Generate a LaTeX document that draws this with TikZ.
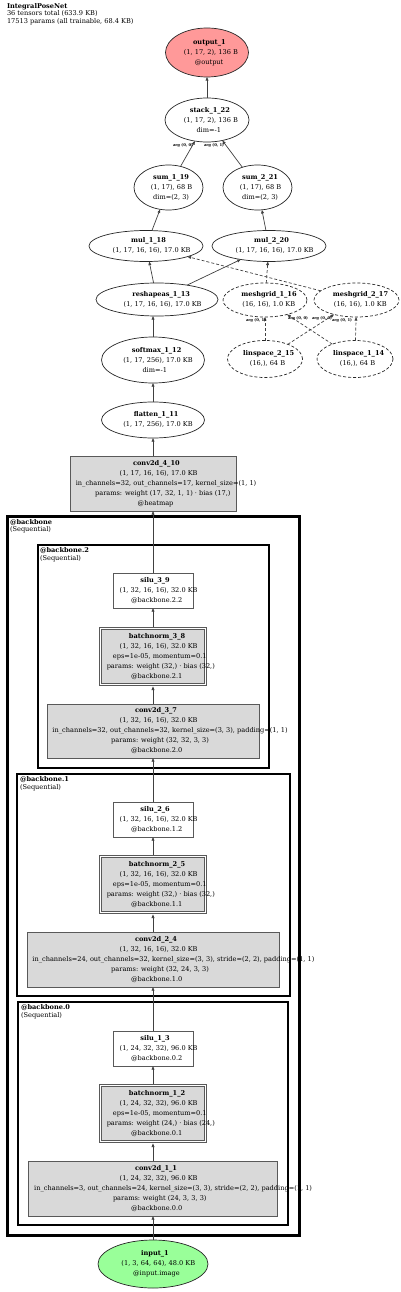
\documentclass[tikz,border=0pt]{standalone}
\usepackage{fontspec}
\setmainfont{DejaVu Serif}
\usetikzlibrary{shapes.geometric,arrows.meta}
\definecolor{outred}{HTML}{FF9999}
\definecolor{ingreen}{HTML}{99FF99}
\definecolor{boxgray}{HTML}{D9D9D9}
\newsavebox\tlbox
\newcommand\tl[1]{\sbox\tlbox{#1}\hbox to 0pt{\hss\kern0.145\wd\tlbox\usebox\tlbox\hss}}
\begin{document}
\begin{tikzpicture}[x=1pt,y=-1pt,
  every node/.style={inner sep=0pt,outer sep=0pt},
  lbl/.style={font=\fontsize{6.6}{10}\selectfont,align=center},
  ell/.style={lbl,ellipse,draw=black!85,line width=0.7pt},
  dell/.style={ell,dash pattern=on 3pt off 2pt},
  gbox/.style={lbl,rectangle,draw=black!65,line width=0.7pt,fill=boxgray},
  wbox/.style={gbox,fill=white},
  bnbox/.style={gbox,double=white,double distance=1.4pt,outer sep=1.8pt,minimum width=105.2,minimum height=56.2},
  conn/.style={draw=black!75,line width=0.7pt,-{Triangle[length=3.6pt,width=2.8pt]}},
  dconn/.style={conn,dash pattern=on 3pt off 2pt},
  arglbl/.style={font=\fontsize{3.8}{4}\selectfont\bfseries},
  clus/.style={draw=black,line width=2pt},
  cltxt/.style={font=\fontsize{6.6}{7.8}\selectfont,align=left,anchor=north west}
]
\useasboundingbox (0,0) rectangle (400,1292);

% title
\node[anchor=north west,font=\fontsize{6.6}{7.6}\selectfont,align=left] (title) at (7,3)
  {\textbf{IntegralPoseNet}\\36 tensors total (633.9 KB)\\17513 params (all trainable, 68.4 KB)};

% clusters
\draw[clus,line width=3pt] (7.5,516.5) rectangle (299.5,1235.5);
\node[cltxt] (lbb) at (10,519) {\textbf{@backbone}\\(Sequential)};
\draw[clus] (38,545) rectangle (269,768);
\node[cltxt] (lbb2) at (40,547.5) {\textbf{@backbone.2}\\(Sequential)};
\draw[clus] (17,774) rectangle (290,996);
\node[cltxt] (lbb1) at (20,776.5) {\textbf{@backbone.1}\\(Sequential)};
\draw[clus] (18,1002) rectangle (288,1225);
\node[cltxt] (lbb0) at (21,1004.5) {\textbf{@backbone.0}\\(Sequential)};

% top graph
\node[ell,fill=outred,minimum width=83,minimum height=49] (out) at (207,52.5)
  {\tl{\bfseries output\_1}\\\tl{(1, 17, 2), 136 B}\\\tl{@output}};
\node[ell,minimum width=84,minimum height=44] (stack) at (207,120)
  {\tl{\bfseries stack\_1\_22}\\\tl{(1, 17, 2), 136 B}\\\tl{dim=-1}};
\node[ell,minimum width=69,minimum height=45] (sum1) at (168.5,187.5)
  {\tl{\bfseries sum\_1\_19}\\\tl{(1, 17), 68 B}\\\tl{dim=(2, 3)}};
\node[ell,minimum width=69,minimum height=45] (sum2) at (257.5,187.5)
  {\tl{\bfseries sum\_2\_21}\\\tl{(1, 17), 68 B}\\\tl{dim=(2, 3)}};
\node[ell,minimum width=114,minimum height=31] (mul1) at (146,246)
  {\tl{\bfseries mul\_1\_18}\\\tl{(1, 17, 16, 16), 17.0 KB}};
\node[ell,minimum width=114,minimum height=31] (mul2) at (269,246)
  {\tl{\bfseries mul\_2\_20}\\\tl{(1, 17, 16, 16), 17.0 KB}};
\node[ell,minimum width=122,minimum height=33] (rs) at (157,299.5)
  {\tl{\bfseries reshapeas\_1\_13}\\\tl{(1, 17, 16, 16), 17.0 KB}};
\node[dell,minimum width=84,minimum height=34] (mg1) at (265,300)
  {\tl{\bfseries meshgrid\_1\_16}\\\tl{(16, 16), 1.0 KB}};
\node[dell,minimum width=85,minimum height=34] (mg2) at (356.5,300)
  {\tl{\bfseries meshgrid\_2\_17}\\\tl{(16, 16), 1.0 KB}};
\node[dell,minimum width=75,minimum height=37] (ls2) at (265,359)
  {\tl{\bfseries linspace\_2\_15}\\\tl{(16,), 64 B}};
\node[dell,minimum width=76,minimum height=37] (ls1) at (355,359)
  {\tl{\bfseries linspace\_1\_14}\\\tl{(16,), 64 B}};
\node[ell,minimum width=103,minimum height=46] (sm) at (153,360)
  {\tl{\bfseries softmax\_1\_12}\\\tl{(1, 17, 256), 17.0 KB}\\\tl{dim=-1}};
\node[ell,minimum width=103,minimum height=36] (fl) at (153,420)
  {\tl{\bfseries flatten\_1\_11}\\\tl{(1, 17, 256), 17.0 KB}};
\node[gbox,minimum width=166,minimum height=55] (c410) at (153,483.5)
  {\tl{\bfseries conv2d\_4\_10}\\\tl{(1, 17, 16, 16), 17.0 KB}\\\tl{in\_channels=32, out\_channels=17, kernel\_size=(1, 1)}\\\tl{params: weight (17, 32, 1, 1) · bias (17,)}\\\tl{@heatmap}};

% backbone.2
\node[wbox,minimum width=80,minimum height=35] (s39) at (153,590.5)
  {\tl{\bfseries silu\_3\_9}\\\tl{(1, 32, 16, 16), 32.0 KB}\\\tl{@backbone.2.2}};
\node[bnbox] (bn38) at (153,656.5)
  {\tl{\bfseries batchnorm\_3\_8}\\\tl{(1, 32, 16, 16), 32.0 KB}\\\tl{eps=1e-05, momentum=0.1}\\\tl{params: weight (32,) · bias (32,)}\\\tl{@backbone.2.1}};
\node[gbox,minimum width=212,minimum height=54] (c37) at (153,731)
  {\tl{\bfseries conv2d\_3\_7}\\\tl{(1, 32, 16, 16), 32.0 KB}\\\tl{in\_channels=32, out\_channels=32, kernel\_size=(3, 3), padding=(1, 1)}\\\tl{params: weight (32, 32, 3, 3)}\\\tl{@backbone.2.0}};

% backbone.1
\node[wbox,minimum width=80,minimum height=35] (s26) at (153,819.5)
  {\tl{\bfseries silu\_2\_6}\\\tl{(1, 32, 16, 16), 32.0 KB}\\\tl{@backbone.1.2}};
\node[bnbox] (bn25) at (153,884.5)
  {\tl{\bfseries batchnorm\_2\_5}\\\tl{(1, 32, 16, 16), 32.0 KB}\\\tl{eps=1e-05, momentum=0.1}\\\tl{params: weight (32,) · bias (32,)}\\\tl{@backbone.1.1}};
\node[gbox,minimum width=252,minimum height=55] (c24) at (153,959.5)
  {\tl{\bfseries conv2d\_2\_4}\\\tl{(1, 32, 16, 16), 32.0 KB}\\\tl{in\_channels=24, out\_channels=32, kernel\_size=(3, 3), stride=(2, 2), padding=(1, 1)}\\\tl{params: weight (32, 24, 3, 3)}\\\tl{@backbone.1.0}};

% backbone.0
\node[wbox,minimum width=80,minimum height=35] (s13) at (153,1048.5)
  {\tl{\bfseries silu\_1\_3}\\\tl{(1, 24, 32, 32), 96.0 KB}\\\tl{@backbone.0.2}};
\node[bnbox] (bn12) at (153,1113.5)
  {\tl{\bfseries batchnorm\_1\_2}\\\tl{(1, 24, 32, 32), 96.0 KB}\\\tl{eps=1e-05, momentum=0.1}\\\tl{params: weight (24,) · bias (24,)}\\\tl{@backbone.0.1}};
\node[gbox,minimum width=249,minimum height=55] (c11) at (153,1188.5)
  {\tl{\bfseries conv2d\_1\_1}\\\tl{(1, 24, 32, 32), 96.0 KB}\\\tl{in\_channels=3, out\_channels=24, kernel\_size=(3, 3), stride=(2, 2), padding=(1, 1)}\\\tl{params: weight (24, 3, 3, 3)}\\\tl{@backbone.0.0}};

\node[ell,fill=ingreen,minimum width=110,minimum height=48] (in) at (153,1264)
  {\tl{\bfseries input\_1}\\\tl{(1, 3, 64, 64), 48.0 KB}\\\tl{@input.image}};

% connectors
\draw[conn] (in) -- (c11);
\draw[conn] (c11) -- (bn12);
\draw[conn] (bn12) -- (s13);
\draw[conn] (s13) -- (c24);
\draw[conn] (c24) -- (bn25);
\draw[conn] (bn25) -- (s26);
\draw[conn] (s26) -- (c37);
\draw[conn] (c37) -- (bn38);
\draw[conn] (bn38) -- (s39);
\draw[conn] (s39) -- (c410);
\draw[conn] (c410) -- (fl);
\draw[conn] (fl) -- (sm);
\draw[conn] (sm.north) -- (sm.north |- rs.south);
\draw[conn] (rs) -- (mul1);
\draw[conn] (rs) -- (mul2);
\draw[dconn] (mg2) -- (mul1);
\draw[dconn] (mg1) -- (mul2);
\draw[dconn] (ls2) -- (mg1);
\draw[dconn] (ls1) -- (mg2);
\draw[dconn] (ls2) -- (mg2);
\draw[dconn] (ls1) -- (mg1);
\draw[conn] (mul1) -- (sum1);
\draw[conn] (mul2) -- (sum2);
\draw[conn] (sum1) -- (stack);
\draw[conn] (sum2) -- (stack);
\draw[conn] (stack) -- (out);

% edge labels
\node[arglbl] (a1) at (183,145) {arg (0, 0)};
\node[arglbl] (a2) at (214,145) {arg (0, 1)};
\node[arglbl] (a3) at (256,320) {arg (0, 1)};
\node[arglbl] (a4) at (298,318) {arg (0, 0)};
\node[arglbl] (a5) at (322,318) {arg (0, 0)};
\node[arglbl] (a6) at (342,320) {arg (0, 1)};
\end{tikzpicture}
\end{document}
